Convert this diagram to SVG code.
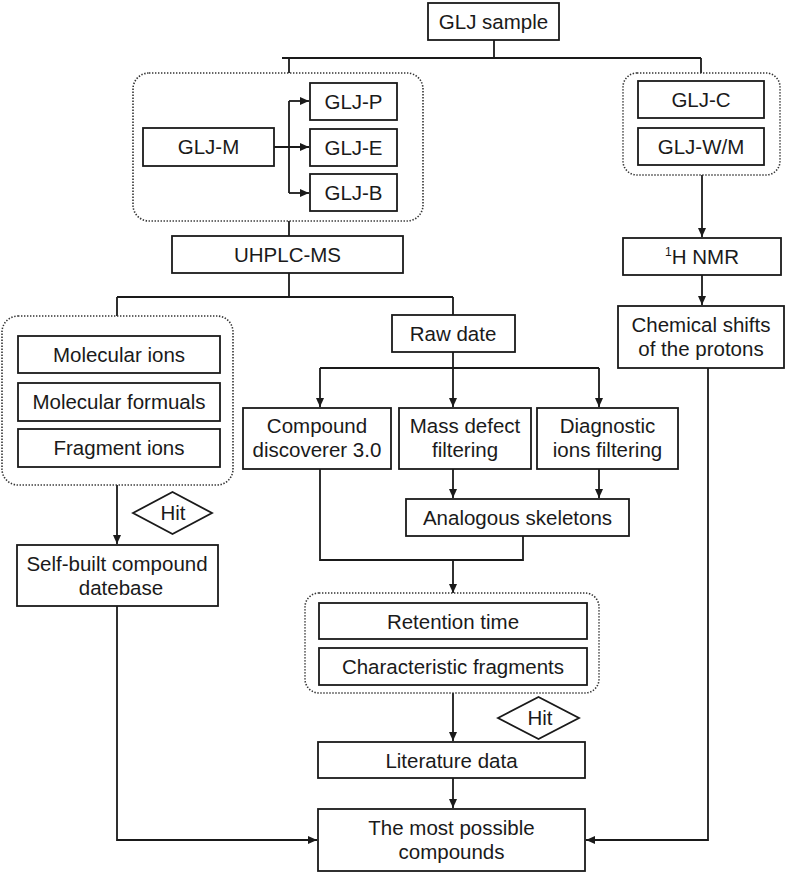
<svg xmlns="http://www.w3.org/2000/svg" width="787" height="874" viewBox="0 0 787 874">
<defs>
<marker id="ah" markerWidth="10" markerHeight="8" refX="9" refY="4" orient="auto" markerUnits="userSpaceOnUse">
<path d="M0,0 L9,4 L0,8 Z" fill="#1a1a1a"/>
</marker>
<style>
.b{fill:#fff;stroke:#1a1a1a;stroke-width:1.8}
.g{fill:none;stroke:#333;stroke-width:1.6;stroke-dasharray:1.4 1.6}
.t{font-family:"Liberation Sans",Arial,sans-serif;font-size:20.5px;fill:#1a1a1a;text-anchor:middle}
.c{fill:none;stroke:#1a1a1a;stroke-width:1.8}
.a{fill:none;stroke:#1a1a1a;stroke-width:1.8;marker-end:url(#ah)}
</style>
</defs>
<rect width="787" height="874" fill="#fff"/>

<g id="connectors">
<path class="c" d="M494,40 V58 M282,58 H701 M289,58 V73 M701,58 V73"/>
<path class="c" d="M274,147 H289 M289,101 V193"/>
<path class="a" d="M289,101 H309"/>
<path class="a" d="M274,147 H309"/>
<path class="a" d="M289,193 H309"/>
<path class="c" d="M289,221 V236"/>
<path class="c" d="M289,273 V297 M117,297 H453 M117,297 V316 M453,297 V316"/>
<path class="a" d="M117,485 V544"/>
<path class="a" d="M453,352 V407"/>
<path class="c" d="M320,368 H599"/>
<path class="a" d="M320,368 V407"/>
<path class="a" d="M599,368 V407"/>
<path class="a" d="M453,469 V498"/>
<path class="a" d="M599,469 V498"/>
<path class="c" d="M320,469 V560 H523 V536"/>
<path class="a" d="M453,560 V593"/>
<path class="a" d="M453,693 V741"/>
<path class="a" d="M453,778 V808"/>
<path class="a" d="M117,606 V840 H317"/>
<path class="a" d="M702,175 V237"/>
<path class="a" d="M702,275 V305"/>
<path class="a" d="M708,368 V840 H586"/>
</g>

<g id="glj-sample"><rect class="b" x="428" y="3" width="131" height="37"/><text class="t" x="493.5" y="29">GLJ sample</text></g>

<g id="group-m"><rect class="g" x="133" y="73" width="290" height="148" rx="16"/></g>
<g id="glj-m"><rect class="b" x="143" y="128" width="131" height="38"/><text class="t" x="208.5" y="154">GLJ-M</text></g>
<g id="glj-p"><rect class="b" x="310" y="83" width="87" height="37"/><text class="t" x="353.5" y="109">GLJ-P</text></g>
<g id="glj-e"><rect class="b" x="310" y="129" width="87" height="37"/><text class="t" x="353.5" y="155">GLJ-E</text></g>
<g id="glj-b"><rect class="b" x="310" y="174" width="87" height="37"/><text class="t" x="353.5" y="200">GLJ-B</text></g>

<g id="group-c"><rect class="g" x="623" y="73" width="157" height="102" rx="14"/></g>
<g id="glj-c"><rect class="b" x="638" y="81" width="126" height="37"/><text class="t" x="701" y="107">GLJ-C</text></g>
<g id="glj-wm"><rect class="b" x="638" y="128" width="126" height="37"/><text class="t" x="701" y="154">GLJ-W/M</text></g>

<g id="uhplc"><rect class="b" x="172" y="236" width="231" height="37"/><text class="t" x="287.5" y="262">UHPLC-MS</text></g>

<g id="nmr"><rect class="b" x="623" y="238" width="158" height="37"/><text class="t" x="702" y="264"><tspan font-size="12" dy="-8">1</tspan><tspan dy="8">H NMR</tspan></text></g>
<g id="chem"><rect class="b" x="618" y="306" width="166" height="62"/><text class="t" x="701" y="332">Chemical shifts</text><text class="t" x="701" y="356">of the protons</text></g>

<g id="group-ions"><rect class="g" x="2" y="316" width="231" height="169" rx="16"/></g>
<g id="mol-ions"><rect class="b" x="18" y="336" width="202" height="37"/><text class="t" x="119" y="362">Molecular ions</text></g>
<g id="mol-form"><rect class="b" x="18" y="383" width="202" height="38"/><text class="t" x="119" y="409">Molecular formuals</text></g>
<g id="frag-ions"><rect class="b" x="18" y="429" width="202" height="38"/><text class="t" x="119" y="455">Fragment ions</text></g>

<g id="hit1"><path class="b" d="M133,513 L172.5,492 L212,513 L172.5,534 Z"/><text class="t" x="173" y="520">Hit</text></g>
<g id="selfbuilt"><rect class="b" x="17" y="545" width="201" height="61"/><text class="t" x="117" y="571">Self-built compound</text><text class="t" x="121" y="595">datebase</text></g>

<g id="raw"><rect class="b" x="392" y="315" width="123" height="37"/><text class="t" x="453" y="341">Raw date</text></g>
<g id="cd"><rect class="b" x="243" y="408" width="148" height="61"/><text class="t" x="317" y="433">Compound</text><text class="t" x="317" y="457">discoverer 3.0</text></g>
<g id="mdf"><rect class="b" x="399" y="408" width="132" height="61"/><text class="t" x="465" y="433">Mass defect</text><text class="t" x="465" y="457">filtering</text></g>
<g id="dif"><rect class="b" x="537" y="408" width="141" height="61"/><text class="t" x="607.5" y="433">Diagnostic</text><text class="t" x="607.5" y="457">ions filtering</text></g>
<g id="analog"><rect class="b" x="406" y="499" width="223" height="37"/><text class="t" x="517.5" y="525">Analogous skeletons</text></g>

<g id="group-rt"><rect class="g" x="305" y="593" width="294" height="100" rx="14"/></g>
<g id="rt"><rect class="b" x="319" y="603" width="268" height="36"/><text class="t" x="453" y="628.5">Retention time</text></g>
<g id="cf"><rect class="b" x="319" y="648" width="268" height="37"/><text class="t" x="453" y="674">Characteristic fragments</text></g>

<g id="hit2"><path class="b" d="M498,718 L538.5,697 L579,718 L538.5,739 Z"/><text class="t" x="540" y="725">Hit</text></g>
<g id="lit"><rect class="b" x="318" y="742" width="267" height="36"/><text class="t" x="451.5" y="767.5">Literature data</text></g>
<g id="final"><rect class="b" x="318" y="809" width="267" height="62"/><text class="t" x="451.5" y="835">The most possible</text><text class="t" x="451.5" y="859">compounds</text></g>
</svg>
